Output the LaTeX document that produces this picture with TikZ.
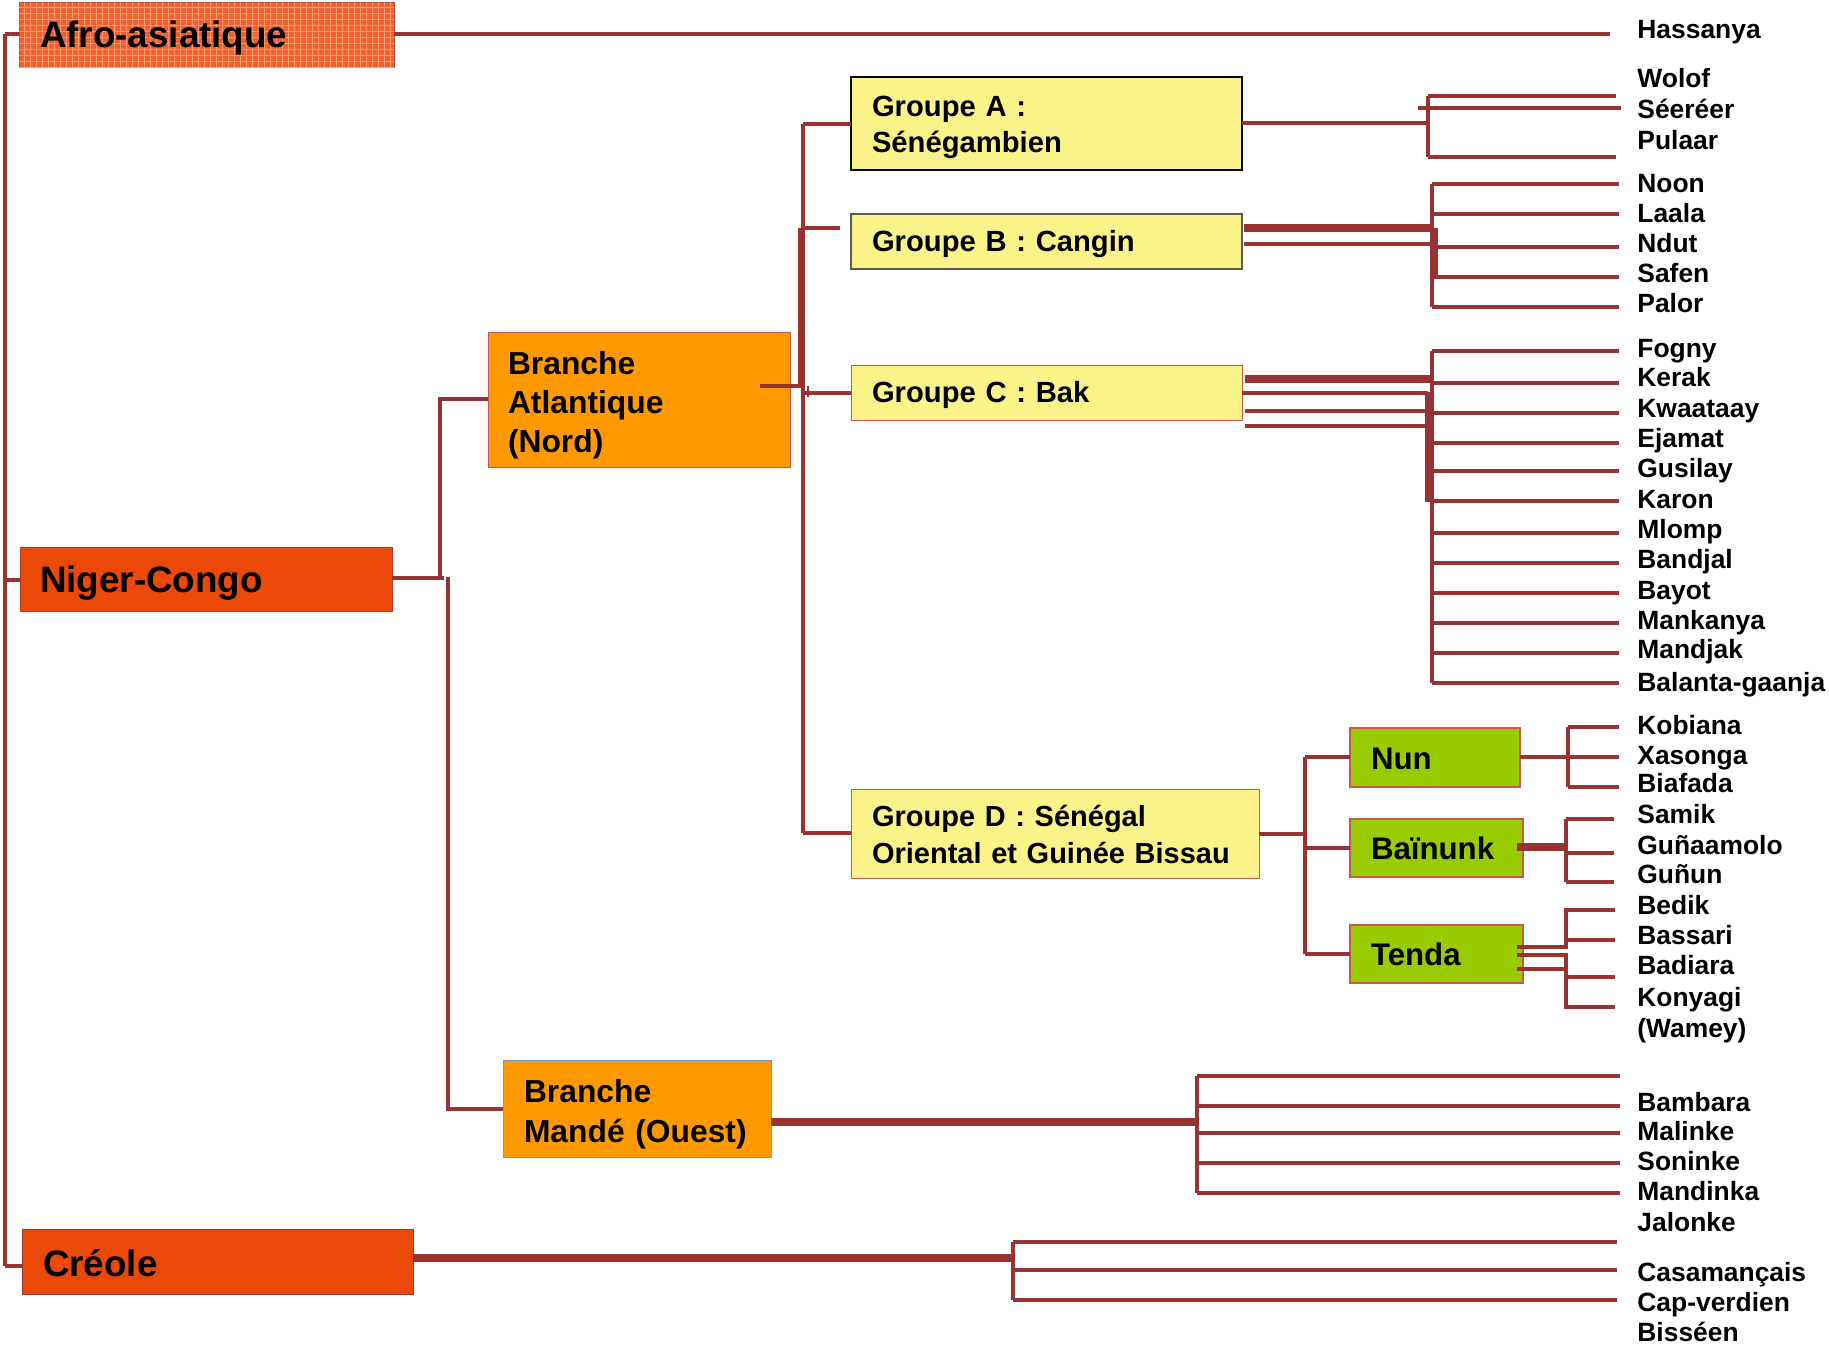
\documentclass[tikz,border=0pt]{standalone}
\usepackage{fontspec}
\setmainfont{Liberation Sans}
\usetikzlibrary{patterns}
\definecolor{ln}{RGB}{153,51,51}
\definecolor{redbox}{RGB}{234,73,8}
\definecolor{afrobox}{RGB}{240,96,48}
\definecolor{orbox}{RGB}{255,153,0}
\definecolor{yelbox}{RGB}{250,243,138}
\definecolor{grbox}{RGB}{153,204,0}
\definecolor{brd}{RGB}{200,90,75}
\begin{document}
\begin{tikzpicture}[x=0.5pt,y=-0.5pt,
  box/.style={rectangle, anchor=north west, inner ysep=0pt, outer sep=0pt, align=left, font=\bfseries},
  big/.style={box, text height=13.2pt, text depth=0pt, font=\fontsize{18.4}{21}\selectfont\bfseries},
  branch/.style={box, fill=orbox, text height=11.4pt, font=\fontsize{15.9}{19.5}\selectfont\bfseries},
  grp/.style={box, fill=yelbox, text height=10.45pt, font=\fontsize{14.6}{17.8}\selectfont\bfseries},
  sub/.style={box, fill=grbox, draw=brd, line width=0.6pt, text height=11.6pt, text depth=0pt,
    font=\fontsize{15.6}{18}\selectfont\bfseries},
  lang/.style={anchor=base west, inner sep=0pt, font=\fontsize{13.2}{15}\selectfont\bfseries},
  cn/.style={draw=ln, line width=2pt},
  cnthin/.style={draw=ln, line width=1.6pt},
  cnthick/.style={draw=ln, line width=3.8pt}]
\useasboundingbox (0,0) rectangle (1829,1345);

% ---------- boxes ----------
\node[big, fill=afrobox, draw={rgb,255:red,190;green,75;blue,50}, line width=0.5pt,
  postaction={pattern=grid, pattern color={rgb,255:red,248;green,150;blue,110}},
  minimum height=32.5pt, inner xsep=10.5pt, text width=166.5pt] (afro) at (19,2) {Afro-asiatique};
\node[big, fill=redbox, draw={rgb,255:red,185;green,60;blue,40}, line width=0.5pt,
  minimum height=32pt, inner xsep=10pt, text width=166pt] (niger) at (20,547) {Niger-Congo};
\node[big, fill=redbox, draw={rgb,255:red,150;green,60;blue,50}, line width=0.5pt,
  minimum height=32.5pt, inner xsep=10.5pt, text width=174.5pt, text height=15pt] (creole) at (22,1229) {Créole};

\node[branch, draw=brd, line width=0.5pt, minimum height=67.5pt, inner xsep=10pt, text width=131pt,
  text depth=36.5pt] (atl) at (488,332) {Branche\\Atlantique\\(Nord)};
\node[branch, draw={rgb,255:red,120;green,150;blue,200}, line width=0.5pt, minimum height=48.5pt,
  inner xsep=10.5pt, text width=113pt, text depth=17.4pt,
  font=\fontsize{15.9}{19.8}\selectfont\bfseries] (mande) at (503,1060) {Branche\\Mandé~(Ouest)};

\node[grp, draw=black, line width=1pt, minimum height=46.5pt, inner xsep=10.5pt, text width=174.5pt,
  text depth=17pt, font=\fontsize{14.6}{17.6}\selectfont\bfseries]
  (ga) at (851,77) {Groupe A :\\Sénégambien};
\node[grp, draw={rgb,255:red,90;green,90;blue,90}, line width=0.6pt, minimum height=27.5pt,
  inner xsep=10.5pt, text width=174.5pt, text depth=0pt] (gb) at (851,214) {Groupe B : Cangin};
\node[grp, draw=brd, line width=0.5pt, minimum height=27.5pt, inner xsep=10.5pt, text width=174.5pt,
  text depth=-1pt] (gc) at (851,365) {Groupe C : Bak};
\node[grp, draw=brd, line width=0.5pt, minimum height=44.5pt, inner xsep=10.5pt, text width=183pt,
  text depth=17pt, font=\fontsize{14.5}{18.2}\selectfont\bfseries]
  (gd) at (851,789) {Groupe D : Sénégal\\Oriental et Guinée Bissau};

\node[sub, minimum height=29.5pt, inner xsep=10.5pt, text width=64pt] (nun) at (1350,728) {Nun};
\node[sub, minimum height=29pt, inner xsep=10.5pt, text width=65.5pt] (bai) at (1350,819) {Baïnunk};
\node[sub, minimum height=29pt, inner xsep=10.5pt, text width=65.5pt] (tenda) at (1350,925) {Tenda};

% ---------- language labels ----------
\foreach \n/\t/\yy in {
  hass/Hassanya/29,
  wolof/Wolof/78, seereer/Séeréer/109, pulaar/Pulaar/140,
  noon/Noon/183, laala/Laala/213, ndut/Ndut/243, safen/Safen/273, palor/Palor/303,
  fogny/Fogny/348, kerak/Kerak/377, kwaa/Kwaataay/408, ejamat/Ejamat/438, gusilay/Gusilay/468,
  karon/Karon/499, mlomp/Mlomp/529, bandjal/Bandjal/559, bayot/Bayot/590, mankanya/Mankanya/620,
  mandjak/Mandjak/649, balanta/Balanta-gaanja/682,
  kobiana/Kobiana/725, xasonga/Xasonga/755, biafada/Biafada/783, samik/Samik/814,
  gunaamolo/Guñaamolo/845, gunun/Guñun/874, bedik/Bedik/905, bassari/Bassari/935,
  badiara/Badiara/965, konyagi/Konyagi/997, wamey/(Wamey)/1028,
  bambara/Bambara/1102, malinke/Malinke/1131, soninke/Soninke/1161, mandinka/Mandinka/1191,
  jalonke/Jalonke/1222,
  casa/Casamançais/1272, capv/Cap-verdien/1302, bisseen/Bisséen/1332}
  \node[lang] (\n) at (1637,\yy+9.5) {\t};

% ---------- top level ----------
\coordinate (spT) at (5,34);
\coordinate (spB) at (5,1266);
\draw[cn] (spT) -- (spB);
\draw[cn] (spT) -- (afro.west |- spT);
\draw[cn] (afro.east |- spT) -- (1610,34);
\draw[cn] (5,580) -- (niger.west |- 0,580);
\draw[cn] (spB) -- (creole.west |- spB);

% ---------- Niger-Congo ----------
\coordinate (nj) at (444,578);
\draw[cnthin] (niger.east |- nj) -- (nj);
\draw[cnthin] (440,579) -- (440,399) -- (atl.west |- 0,399);
\draw[cnthin] (448,577) -- (448,1109) -- (mande.west |- 0,1109);

% ---------- Atlantique ----------
\coordinate (av) at (803,386);
\draw[cn] (760,386) -- (av);
\draw[cn] (803,124) -- (803,833);
\draw[draw=ln, line width=3pt] (801,228) -- (801,386);
\draw[cn] (803,124) -- (ga.west |- 0,124);
\draw[cn] (803,228) -- (840,228);
\draw[cn] (803,393) -- (gc.west |- 0,393);
\draw[cn] (803,833) -- (gd.west |- 0,833);
\draw[draw=ln, line width=1pt] (808,386) -- (808,397);

% Groupe A
\draw[cn] (ga.east |- 0,123) -- (1428,123);
\draw[cn] (1428,96) -- (1428,157);
\draw[cn] (1428,96) -- (1616,96);
\draw[cn] (1418,108) -- (1621,108);
\draw[cn] (1428,157) -- (1616,157);

% Groupe B
\draw[cnthick] (1244,228) -- (1432,228);
\draw[cnthin] (1244,244) -- (1435,244);
\draw[cn] (1432,184) -- (1432,307);
\draw[draw=ln, line width=2.5pt] (1435,228) -- (1435,277);
\foreach \yy in {184,214,247,277,307} \draw[cn] (1432,\yy) -- (1619,\yy);

% Groupe C
\draw[cnthick] (1245,379) -- (1430,379);
\draw[cn] (gc.east |- 0,393) -- (1428,393);
\draw[cn] (1245,411) -- (1428,411);
\draw[cn] (1245,426) -- (1428,426);
\draw[draw=ln, line width=3pt] (1428,392) -- (1428,502);
\draw[cn] (1432,351) -- (1432,683);
\foreach \yy in {351,383,413,443,471,501,533,563,593,623,653,683} \draw[cn] (1432,\yy) -- (1619,\yy);

% Groupe D
\draw[cn] (gd.east |- 0,834) -- (1305,834);
\draw[cn] (1305,757) -- (1305,954);
\draw[cn] (1305,757) -- (nun.west |- 0,757);
\draw[cn] (1305,848) -- (bai.west |- 0,848);
\draw[cn] (1305,954) -- (tenda.west |- 0,954);

% Nun
\draw[cn] (nun.east |- 0,757) -- (1568,757);
\draw[cn] (1568,727) -- (1568,787);
\foreach \yy in {727,757,787} \draw[cn] (1568,\yy) -- (1619,\yy);

% Bainunk
\draw[cnthick] (1517,847) -- (1566,847);
\draw[cn] (1566,819) -- (1566,882);
\foreach \yy in {819,853,882} \draw[cn] (1566,\yy) -- (1614,\yy);

% Tenda
\draw[cn] (1517,947) -- (1566,947) -- (1566,910) -- (1615,910);
\draw[cn] (1566,940) -- (1615,940);
\draw[cn] (1517,955) -- (1566,955) -- (1566,1007) -- (1615,1007);
\draw[cn] (1517,969) -- (1566,969);
\draw[cn] (1566,977) -- (1615,977);

% Mande
\draw[cnthick] (mande.east |- 0,1122) -- (1197,1122);
\draw[cn] (1197,1076) -- (1197,1193);
\foreach \yy in {1076,1106,1133,1163,1193} \draw[cn] (1197,\yy) -- (1620,\yy);

% Creole
\draw[cnthick] (creole.east |- 0,1258) -- (1013,1258);
\draw[cn] (1013,1242) -- (1013,1300);
\foreach \yy in {1242,1270,1300} \draw[cn] (1013,\yy) -- (1617,\yy);
\end{tikzpicture}
\end{document}
